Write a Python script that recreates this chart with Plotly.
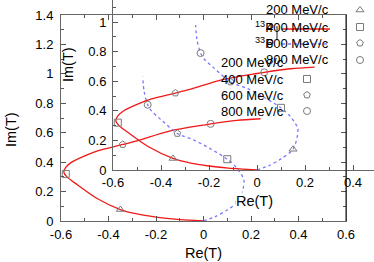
import plotly.graph_objects as go

W, H = 374, 262

# ---------------- data ----------------
momenta = ["200 MeV/c", "400 MeV/c", "600 MeV/c", "800 MeV/c"]
symbols = ["triangle-up-open", "square-open", "pentagon-open", "circle-open"]

# 13P amplitude (red, solid)
p13_re = [0.0, -0.06, -0.12, -0.2, -0.28, -0.35, -0.45, -0.53, -0.575, -0.588, -0.58, -0.555,
          -0.49, -0.44, -0.34, -0.28, -0.14, 0.0, 0.03, 0.14, 0.24]
p13_im = [0.0, 0.006, 0.013, 0.027, 0.048, 0.078, 0.155, 0.245, 0.3, 0.33, 0.365, 0.4,
          0.45, 0.48, 0.52, 0.545, 0.612, 0.652, 0.66, 0.684, 0.695]
# 33P amplitude (blue, dotted)
p33_re = [0.0, 0.05, 0.1, 0.15, 0.167, 0.17, 0.14, 0.10, 0.03, -0.04, -0.11, -0.18,
          -0.22, -0.235, -0.25, -0.256]
p33_im = [0.0, 0.03, 0.075, 0.14, 0.22, 0.28, 0.36, 0.42, 0.49, 0.55, 0.595, 0.69,
          0.75, 0.79, 0.88, 0.98]

# points at 200/400/600/800 MeV/c
p13_mark_re = [-0.35, -0.58, -0.34, 0.03]
p13_mark_im = [0.078, 0.32, 0.52, 0.66]
p33_mark_re = [0.15, 0.10, -0.11, -0.235]
p33_mark_im = [0.14, 0.42, 0.595, 0.79]

# tick labels
main_x_ticks = [-0.6, -0.4, -0.2, 0, 0.2, 0.4, 0.6]
main_x_labels = ["-0.6", "-0.4", "-0.2", "0", "0.2", "0.4", "0.6"]
main_y_ticks = [0, 0.2, 0.4, 0.6, 0.8, 1.0, 1.2, 1.4]
main_y_labels = ["0", "0.2", "0.4", "0.6", "0.8", "1", "1.2", "1.4"]
inset_x_ticks = [-0.6, -0.4, -0.2, 0, 0.2, 0.4]
inset_x_labels = ["-0.6", "-0.4", "-0.2", "0", "0.2", "0.4"]
inset_y_ticks = [0, 0.2, 0.4, 0.6, 0.8, 1.0]
inset_y_labels = ["0", "0.2", "0.4", "0.6", "0.8", "1"]

# ---------------- styles ----------------
RED = "#f01818"
BLUE = "#7878ff"
MARK = "#7a7a7a"
FONT = "Liberation Sans"

def px(x):
    return x / W

def py(y):
    return 1 - y / H

fig = go.Figure()

for xa, ya in [("x", "y"), ("x2", "y2")]:
    fig.add_trace(go.Scatter(x=p13_re, y=p13_im, mode="lines", xaxis=xa, yaxis=ya,
                             line=dict(color=RED, width=1.3, shape="spline", smoothing=0.8),
                             showlegend=False))
    fig.add_trace(go.Scatter(x=p33_re, y=p33_im, mode="lines", xaxis=xa, yaxis=ya,
                             line=dict(color=BLUE, width=1.3, dash="dot", shape="spline", smoothing=0.8),
                             showlegend=False))
    for mre, mim in [(p13_mark_re, p13_mark_im), (p33_mark_re, p33_mark_im)]:
        fig.add_trace(go.Scatter(x=mre, y=mim, mode="markers", xaxis=xa, yaxis=ya,
                                 marker=dict(symbol=symbols, size=7, color=MARK,
                                             line=dict(width=1, color=MARK)),
                                 showlegend=False))

# ---- key (helper pixel axes) ----
fig.add_trace(go.Scatter(x=[360] * 4, y=[10, 27, 43, 60], mode="markers", xaxis="x3", yaxis="y3",
                         marker=dict(symbol=symbols, size=7, color=MARK, line=dict(width=1, color=MARK)),
                         showlegend=False))
fig.add_trace(go.Scatter(x=[307] * 3, y=[79, 95, 111], mode="markers", xaxis="x3", yaxis="y3",
                         marker=dict(symbol=symbols[1:], size=7, color=MARK, line=dict(width=1, color=MARK)),
                         showlegend=False))
fig.add_trace(go.Scatter(x=[282, 330], y=[29, 29], mode="lines", xaxis="x3", yaxis="y3",
                         line=dict(color=RED, width=1.3), showlegend=False))
fig.add_trace(go.Scatter(x=[282, 330], y=[44, 44], mode="lines", xaxis="x3", yaxis="y3",
                         line=dict(color=BLUE, width=1.3, dash="dot"), showlegend=False))
fig.add_trace(go.Scatter(x=[277, 277], y=[26, 39], mode="lines", xaxis="x3", yaxis="y3",
                         line=dict(color="#222", width=1), showlegend=False))

tickfont = dict(family=FONT, size=13, color="black")

axis_common = dict(showgrid=False, zeroline=False, ticks="inside", ticklen=5,
                   tickcolor="#555", linecolor="#666", linewidth=1, showline=True,
                   tickfont=tickfont, fixedrange=True, automargin=False)
minor_common = dict(dtick=0.1, ticks="inside", ticklen=3, tickcolor="#555")

fig.update_layout(
    template="none",
    width=W, height=H,
    margin=dict(l=0, r=0, t=0, b=0, pad=0, autoexpand=False),
    paper_bgcolor="white",
    plot_bgcolor="rgba(0,0,0,0)",
    xaxis=dict(domain=[px(61), px(346)], range=[-0.6, 0.6], anchor="y",
               tickvals=main_x_ticks, ticktext=main_x_labels, mirror="ticks",
               minor=minor_common, ticklabelstandoff=1, **axis_common),
    yaxis=dict(domain=[py(221), py(15)], range=[0, 1.4], anchor="x",
               tickvals=main_y_ticks, ticktext=main_y_labels, mirror="ticks",
               minor=minor_common, ticklabelstandoff=4, **axis_common),
    xaxis2=dict(domain=[px(113), 1.0], range=[-0.6, -0.6 + 261 / 240], anchor="y2",
                tickvals=inset_x_ticks, ticktext=inset_x_labels,
                minor=minor_common, ticklabelstandoff=0, **axis_common),
    yaxis2=dict(domain=[py(170), 1.0], range=[0, 170 / 148], anchor="x2",
                tickvals=inset_y_ticks, ticktext=inset_y_labels,
                minor=minor_common, ticklabelstandoff=3, **axis_common),
    xaxis3=dict(domain=[0, 1], range=[0, W], visible=False, anchor="y3",
                fixedrange=True, automargin=False),
    yaxis3=dict(domain=[0, 1], range=[H, 0], visible=False, anchor="x3",
                fixedrange=True, automargin=False),
    showlegend=False,
    shapes=[dict(type="line", xref="paper", yref="paper",
                 x0=px(346), x1=px(346), y0=py(221), y1=py(15),
                 line=dict(color="#111", width=1))],
)

textfont = dict(family=FONT, size=13, color="black")
titlefont = dict(family=FONT, size=14.5, color="black")

ann = []
ann.append(dict(x=px(11), y=py(130), text="Im(T)", textangle=-90, font=titlefont))
ann.append(dict(x=px(68), y=py(65), text="Im(T)", textangle=-90, font=titlefont))
ann.append(dict(x=px(204), y=py(253), text="Re(T)", font=titlefont))
ann.append(dict(x=px(255), y=py(201), text="Re(T)", font=titlefont, bgcolor="white", borderpad=0))
for lab, yy in zip(momenta, [62, 79, 95, 111]):
    ann.append(dict(x=px(219), y=py(yy), text=lab, xanchor="left", font=textfont))
for lab, yy in zip(momenta, [10, 27, 43, 60]):
    ann.append(dict(x=px(331), y=py(yy), text=lab, xanchor="right", font=textfont))
ann.append(dict(x=px(276), y=py(27), text="<sup>13</sup>P", xanchor="right", font=textfont))
ann.append(dict(x=px(276), y=py(43), text="<sup>33</sup>P", xanchor="right", font=textfont))

for a in ann:
    a.update(xref="paper", yref="paper", showarrow=False)
    a.setdefault("xanchor", "center")
    a.setdefault("yanchor", "middle")
fig.update_layout(annotations=ann)

fig.write_html(
    "out.html",
    config={"displayModeBar": False, "staticPlot": True},
    post_script="document.body.style.margin='0px';document.body.style.overflow='hidden';",
)
